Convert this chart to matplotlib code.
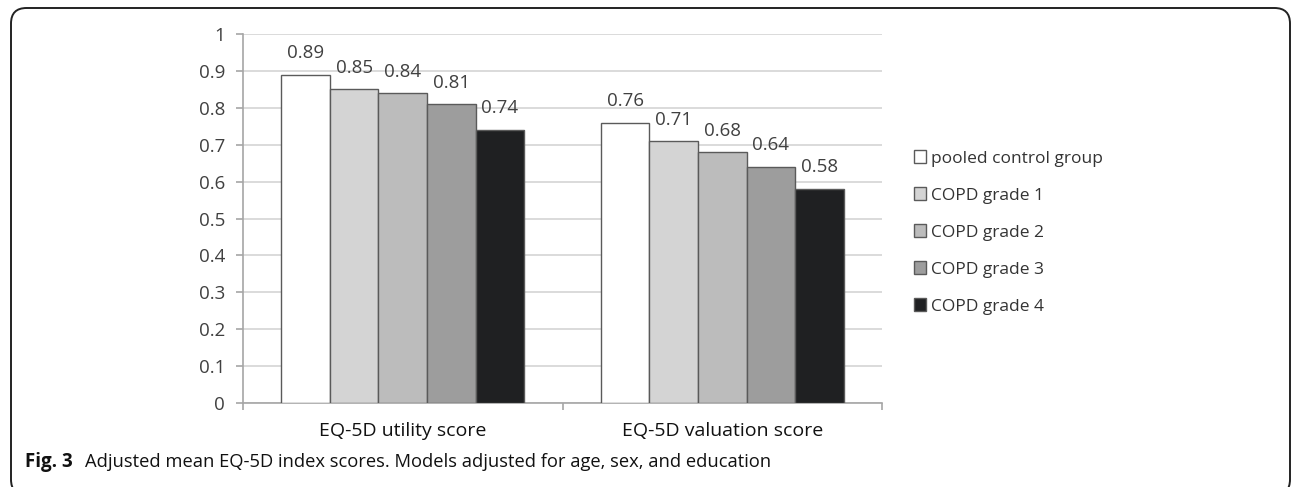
import numpy as np
import matplotlib.pyplot as plt
from matplotlib.patches import FancyBboxPatch

plt.rcParams["font.family"] = ["Open Sans", "DejaVu Sans"]

categories = ["EQ-5D utility score", "EQ-5D valuation score"]
groups = ["pooled control group", "COPD grade 1", "COPD grade 2",
          "COPD grade 3", "COPD grade 4"]
scores = [
    [0.89, 0.76],
    [0.85, 0.71],
    [0.84, 0.68],
    [0.81, 0.64],
    [0.74, 0.58],
]
colors = ["#ffffff", "#d4d4d4", "#bcbcbc", "#9d9d9d", "#1f2022"]
yticks = [0, 0.1, 0.2, 0.3, 0.4, 0.5, 0.6, 0.7, 0.8, 0.9, 1]

W, H = 1295, 487
fig = plt.figure(figsize=(W / 100, H / 100), dpi=100)

# rounded frame around the panel (bottom edge runs off the image)
frame = FancyBboxPatch((11 / W, -8 / H), 1279 / W, 487 / H,
                       transform=fig.transFigure,
                       boxstyle="round,pad=0,rounding_size=0.012",
                       facecolor="none", edgecolor="#222222", linewidth=1.4,
                       mutation_aspect=W / H)
fig.patches.append(frame)

ax = fig.add_axes([243 / W, 1 - 403 / H, 639 / W, 369 / H])

x = np.arange(len(categories))
w = 0.152
for i, (name, vals) in enumerate(zip(groups, scores)):
    pos = x + (i - 2) * w
    ax.bar(pos, vals, width=w, color=colors[i], edgecolor="#5a5a5a",
           linewidth=1.0, label=name, zorder=3)
    for px, v in zip(pos, vals):
        ax.annotate(f"{v:.2f}", (px, v), xytext=(0, 9), textcoords="offset points",
                    ha="center", va="bottom", fontsize=13.5, color="#404040",
                    zorder=4)

ax.set_xlim(-0.5, 1.5)
ax.set_ylim(0, 1)
ax.set_yticks(yticks)
ax.set_yticklabels([f"{t:g}" for t in yticks])
ax.yaxis.grid(True, color="#d4d4d4", linewidth=1.2, zorder=0)
ax.set_axisbelow(True)

ax.set_xticks(x)
ax.set_xticklabels(categories, fontsize=14, color="#111111")
ax.set_xticks([-0.5, 0.5, 1.5], minor=True)
ax.tick_params(axis="x", which="major", length=0, pad=14)
ax.tick_params(axis="x", which="minor", length=5, color="#a6a6a6", width=1.2)
ax.tick_params(axis="y", length=5, color="#a6a6a6", width=1.2,
               labelsize=13.5, labelcolor="#404040", pad=8)

for side in ["top", "right"]:
    ax.spines[side].set_visible(False)
for side in ["left", "bottom"]:
    ax.spines[side].set_color("#a6a6a6")
    ax.spines[side].set_linewidth(1.2)

leg = ax.legend(loc="center left", bbox_to_anchor=(1.05, 0.462), frameon=False,
                fontsize=12.5, handlelength=0.7, handleheight=0.7,
                handletextpad=0.3, labelspacing=1.2, borderpad=0,
                borderaxespad=0, labelcolor="#333333")
for h in leg.legend_handles:
    h.set_edgecolor("#5a5a5a")

fig.text(25 / W, 1 - 462 / H, "Fig. 3", fontsize=13.5, fontweight="bold",
         color="#111111", va="center")
fig.text(85 / W, 1 - 462 / H,
         "Adjusted mean EQ-5D index scores. Models adjusted for age, sex, and education",
         fontsize=13.2, color="#111111", va="center")

fig.savefig("out.png", dpi=100)
